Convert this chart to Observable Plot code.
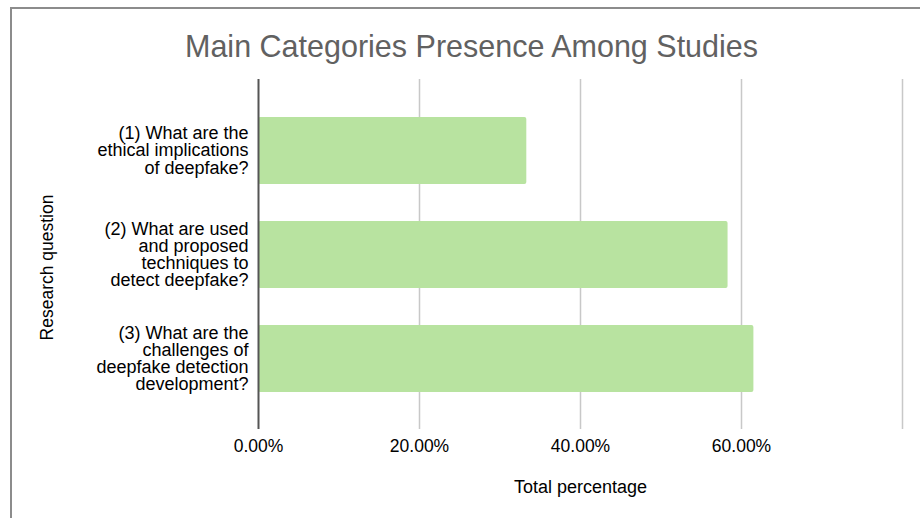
<!DOCTYPE html>
<html>
<head>
<meta charset="utf-8">
<script src="https://cdn.jsdelivr.net/npm/d3@7"></script>
<script src="https://cdn.jsdelivr.net/npm/@observablehq/plot@0.6"></script>
<style>
  html, body { margin: 0; padding: 0; background: #fff; }
  #wrap { position: relative; width: 920px; height: 518px; overflow: hidden; }
  #frame { position: absolute; left: 10px; top: 7px; right: -5px; bottom: -5px;
           border-left: 2px solid #8c8c8c; border-top: 2px solid #8c8c8c; }
  #chart { position: absolute; left: 0; top: 0; }
</style>
</head>
<body>
<div id="wrap"><div id="frame"></div><div id="chart"></div></div>
<script>
const categories = [
  "(1) What are the\nethical implications\nof deepfake?",
  "(2) What are used\nand proposed\ntechniques to\ndetect deepfake?",
  "(3) What are the\nchallenges of\ndeepfake detection\ndevelopment?"
];
const values = [0.3333, 0.5833, 0.6154];
const xTickValues = [0, 0.2, 0.4, 0.6];
const gridValues = [0.2, 0.4, 0.6, 0.8];
const xDomain = [0, 0.8];
const titleText = "Main Categories Presence Among Studies";
const xLabelText = "Total percentage";
const yLabelText = "Research question";

const data = categories.map((c, i) => ({category: c, value: values[i]}));

const chart = Plot.plot({
  width: 920,
  height: 518,
  marginLeft: 258,
  marginRight: 18,
  marginTop: 79,
  marginBottom: 89,
  style: {fontFamily: "'Liberation Sans', Arial, sans-serif", background: "transparent", color: "#000"},
  x: {domain: xDomain, label: null},
  y: {domain: categories, padding: 0.36, label: null},
  marks: [
    Plot.ruleX(gridValues, {stroke: "#c8c8c8", strokeWidth: 1.5}),
    Plot.barX(data, {x: "value", y: "category", fill: "#b8e3a0", rx: 2}),
    Plot.ruleX([0], {stroke: "#555555", strokeWidth: 2}),
    Plot.axisX(xTickValues, {tickFormat: d3.format(".2%"), tickSize: 0, tickPadding: 10, fontSize: 17.5, fill: "#000", label: null}),
    Plot.axisY({tickSize: 0, tickPadding: 10, fontSize: 18, lineHeight: 0.95, fill: "#000", label: null}),
    Plot.text([titleText], {frameAnchor: "top", lineAnchor: "middle", textAnchor: "middle", dx: -109, dy: -32, fontSize: 30.5, fill: "#616161"}),
    Plot.text([xLabelText], {frameAnchor: "bottom", lineAnchor: "middle", textAnchor: "middle", dy: 58, fontSize: 18, fill: "#000"}),
    Plot.text([yLabelText], {frameAnchor: "left", lineAnchor: "middle", textAnchor: "middle", dx: -211, dy: 13, rotate: -90, fontSize: 17.5, fill: "#000"})
  ]
});
document.getElementById("chart").appendChild(chart);
</script>
</body>
</html>
